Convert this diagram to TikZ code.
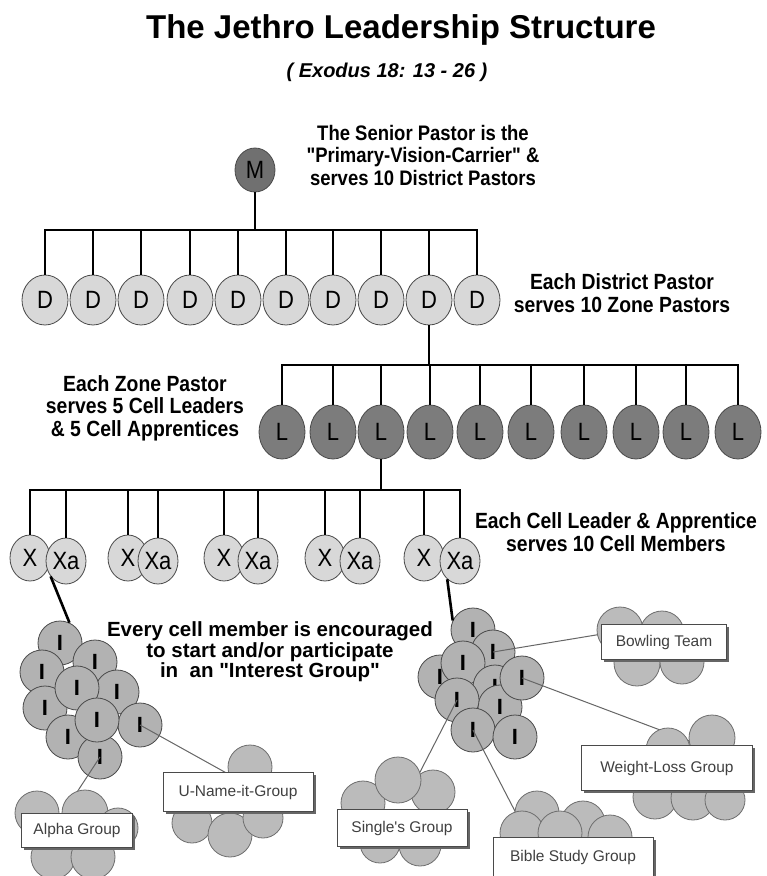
\documentclass[tikz,border=0pt]{standalone}
\usepackage{fontspec}
\setmainfont{Liberation Sans}
\newfontfamily\narrowfont[FakeStretch=0.88]{Liberation Sans}
\newfontfamily\wordfont{Liberation Sans}
\usetikzlibrary{shapes.geometric,shadows}

\definecolor{bossgray}{HTML}{707070}
\definecolor{zonegray}{HTML}{7C7C7C}
\definecolor{palegray}{HTML}{D8D8D8}
\definecolor{clumpgray}{HTML}{B2B2B2}
\definecolor{puffgray}{HTML}{BBBBBB}
\definecolor{rim}{HTML}{4A4A4A}

\begin{document}
\begin{tikzpicture}[x=1pt,y=-1pt,
   trunk/.style={line width=2.6pt,line join=miter},
   twig/.style={line width=1pt,draw=black!60},
   pastor/.style={ellipse,draw=rim,line width=0.8pt,inner sep=0pt,
     minimum width=46pt,minimum height=50pt,
     font=\narrowfont\fontsize{25}{25}\selectfont},
   pair/.style={pastor,fill=palegray,minimum width=40pt,minimum height=46pt},
   member/.style={circle,draw=rim,line width=0.8pt,fill=clumpgray,inner sep=0pt,
     minimum size=44pt,font=\bfseries\fontsize{22}{22}\selectfont},
   puff/.style={circle,draw=rim!80,line width=0.8pt,fill=puffgray,inner sep=0pt},
   note/.style={align=center,inner sep=0pt,
     font=\narrowfont\bfseries\fontsize{22}{22.5}\selectfont}]
 \useasboundingbox[fill=white] (0,0) rectangle (767,876);

 \node[font=\bfseries\fontsize{33}{33}\selectfont] (title) at (401,30) {The Jethro Leadership Structure};
 \node[font=\bfseries\itshape\fontsize{20}{20}\selectfont] (verse) at (387,72) {( Exodus 18: 13 - 26 )};

 % senior pastor and districts
 \node[pastor,fill=bossgray,minimum width=40pt,minimum height=44pt] (M) at (255,170) {M};
 \node[note,font=\narrowfont\bfseries\fontsize{21}{22.5}\selectfont] (seniorNote) at (423,155)
   {The Senior Pastor is the\\"Primary-Vision-Carrier" \&\\serves 10 District Pastors};
 \coordinate (dbus) at (0,230);
 \foreach \x [count=\i] in {45,93,141,190,238,286,333,381,429,477}
   \node[pastor,fill=palegray] (D\i) at (\x,300) {D};
 \draw[trunk] (M) -- (M |- dbus);
 \draw[trunk] (D1) |- (D10 |- dbus) -- (D10);
 \foreach \i in {2,...,9} \draw[trunk] (D\i |- dbus) -- (D\i);
 \node[note] (districtNote) at (622,293) {Each District Pastor\\serves 10 Zone Pastors};

 % zone pastors
 \coordinate (lbus) at (0,365);
 \foreach \x [count=\i] in {282,333,381,430,480,531,584,636,686,738}
   \node[pastor,fill=zonegray,minimum height=54pt] (L\i) at (\x,432) {L};
 \draw[trunk] (D9) -- (D9 |- lbus);
 \draw[trunk] (L1) |- (L10 |- lbus) -- (L10);
 \foreach \i in {2,...,9} \draw[trunk] (L\i |- lbus) -- (L\i);
 \node[note] (zoneNote) at (145,408) {Each Zone Pastor\\serves 5 Cell Leaders\\\& 5 Cell Apprentices};

 % cell leaders and apprentices
 \coordinate (xbus) at (0,490);
 \foreach \x/\y [count=\i] in {30/66,128/158,224/258,325/360,424/460} {
   \node[pair] (X\i) at (\x,558) {X};
   \node[pair] (Xa\i) at (\y,561) {Xa};
 }
 \draw[trunk] (L3) -- (L3 |- xbus);
 \draw[trunk] (X1) |- (Xa5 |- xbus) -- (Xa5);
 \draw[trunk] (Xa1 |- xbus) -- (Xa1);
 \foreach \i in {2,...,5} \draw[trunk] (X\i |- xbus) -- (X\i);
 \foreach \i in {2,...,4} \draw[trunk] (Xa\i |- xbus) -- (Xa\i);
 \node[note] (cellNote) at (616,532) {Each Cell Leader \& Apprentice\\serves 10 Cell Members};

 % cell members
 \foreach \p [count=\i] in {(60,643),(42,672),(95,662),(117,692),(45,708),
     (77,688),(68,737),(140,725),(100,757),(97,720)}
   \node[member] (Ia\i) at \p {I};
 \foreach \p [count=\i] in {(473,630),(493,652),(440,677),(463,663),(495,687),
     (500,707),(522,678),(457,700),(473,730),(515,737)}
   \node[member] (Ib\i) at \p {I};
 \draw[trunk] (Xa1.225) -- (Ia1.65);
 \draw[trunk] (Xa5.235) -- (Ib1.155);
 \node[note,font=\wordfont\bfseries\fontsize{20.5}{20.5}\selectfont] (interestNote) at (270,652)
   {Every cell member is encouraged\\to start and/or participate\\in\ \ an "Interest Group"};

 % interest groups
 \coordinate (alphaEnd) at (60,818);
 \coordinate (unameEnd) at (230,775);
 \coordinate (bowlEnd) at (602,634);
 \coordinate (weightEnd) at (692,742);
 \coordinate (singleEnd) at (418,776);
 \coordinate (bibleEnd) at (518,817);
 \draw[twig] (Ia9.center) -- (alphaEnd);
 \draw[twig] (Ia8.center) -- (unameEnd);
 \draw[twig] (Ib2.center) -- (bowlEnd);
 \draw[twig] (Ib7.center) -- (weightEnd);
 \draw[twig] (Ib8.center) -- (singleEnd);
 \draw[twig] (Ib9.center) -- (bibleEnd);

 \tikzset{group/.style={draw=rim,fill=white,line width=0.8pt,inner sep=0pt,
   font=\wordfont\fontsize{15.5}{15.5}\selectfont,text=black!75,
   drop shadow={shadow xshift=2.5pt,shadow yshift=-2.5pt,fill=black!60,opacity=1}}}
 \coordinate (alpha) at (77,830);
 \foreach \dx/\dy/\r [count=\k] in {-40/-17/22,8/-17/23,41/-2/20,-24/27/22,16/27/22}
   \node[puff,minimum size=2*\r] (alpha-\k) at ([shift={(\dx,\dy)}]alpha) {};
 \node[group,minimum width=111pt,minimum height=34pt] (alphaBox) at (alpha) {Alpha Group};

 \coordinate (uname) at (238,792);
 \foreach \dx/\dy/\r [count=\k] in {12/-25/22,-46/31/20,-8/43/22,25/26/20}
   \node[puff,minimum size=2*\r] (uname-\k) at ([shift={(\dx,\dy)}]uname) {};
 \node[group,minimum width=150pt,minimum height=39pt] (unameBox) at (uname) {U-Name-it-Group};

 \coordinate (bowl) at (664,642);
 \foreach \dx/\dy/\r [count=\k] in {-44/-12/23,-2/-9/22,-27/21/23,18/20/22}
   \node[puff,minimum size=2*\r] (bowl-\k) at ([shift={(\dx,\dy)}]bowl) {};
 \node[group,minimum width=125pt,minimum height=35pt] (bowlBox) at (bowl) {Bowling Team};

 \coordinate (weight) at (667,768);
 \foreach \dx/\dy/\r [count=\k] in {45/-30/23,1/-18/22,-12/29/22,26/30/22,58/32/20}
   \node[puff,minimum size=2*\r] (weight-\k) at ([shift={(\dx,\dy)}]weight) {};
 \node[group,minimum width=171pt,minimum height=45pt] (weightBox) at (weight) {Weight-Loss Group};

 \coordinate (single) at (402,828);
 \foreach \dx/\dy/\r [count=\k] in {-39/-25/22,31/-36/22,-4/-48/23,-22/15/20,18/17/21}
   \node[puff,minimum size=2*\r] (single-\k) at ([shift={(\dx,\dy)}]single) {};
 \node[group,minimum width=130pt,minimum height=37pt] (singleBox) at (single) {Single's Group};

 \coordinate (bible) at (573,857);
 \foreach \dx/\dy/\r [count=\k] in {-36/-44/22,-51/-24/22,10/-34/22,-13/-24/22,37/-20/22}
   \node[puff,minimum size=2*\r] (bible-\k) at ([shift={(\dx,\dy)}]bible) {};
 \node[group,minimum width=160pt,minimum height=40pt] (bibleBox) at (bible) {Bible Study Group};
\end{tikzpicture}
\end{document}
